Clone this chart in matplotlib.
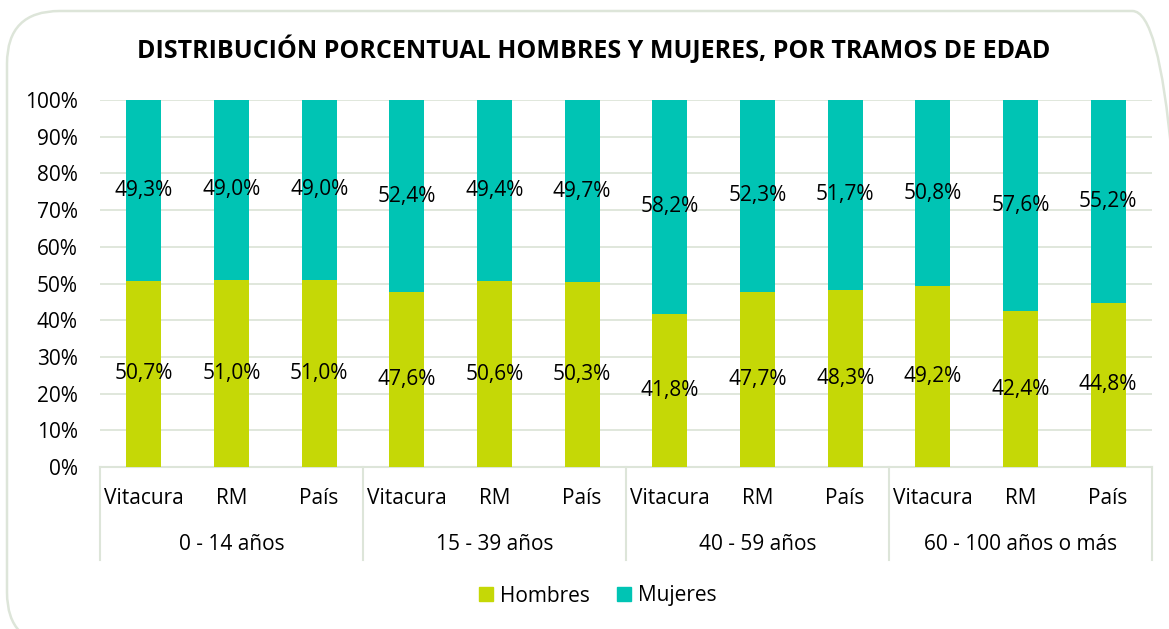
import matplotlib.pyplot as plt
from matplotlib.patches import FancyBboxPatch

groups = ["0 - 14 años", "15 - 39 años", "40 - 59 años", "60 - 100 años o más"]
places = ["Vitacura", "RM", "País"]
hombres = [50.7, 51.0, 51.0, 47.6, 50.6, 50.3, 41.8, 47.7, 48.3, 49.2, 42.4, 44.8]
mujeres = [49.3, 49.0, 49.0, 52.4, 49.4, 49.7, 58.2, 52.3, 51.7, 50.8, 57.6, 55.2]

c_h = "#C5D806"
c_m = "#00C4B4"
grid_c = "#DDE5D9"
font = "Open Sans"
plt.rcParams['font.family'] = [font, 'DejaVu Sans']
fs = 15

W, H = 1169, 629
fig = plt.figure(figsize=(W/100, H/100), dpi=100)
fig.patch.set_facecolor("white")

border = FancyBboxPatch((7/W, -16/H), (1185-7)/W, (H+16-11)/H,
                        boxstyle="round,pad=0,rounding_size=0.045",
                        transform=fig.transFigure, facecolor="none",
                        edgecolor=grid_c, linewidth=1.8, mutation_aspect=W/H)
fig.patches.append(border)

x0, x1 = 100, 1152
y_top, y_bot = 100, 467
ax = fig.add_axes([x0/W, 1 - y_bot/H, (x1-x0)/W, (y_bot-y_top)/H])
n = len(hombres)
xs = list(range(n))
ax.bar(xs, hombres, width=0.4, color=c_h, label="Hombres", zorder=3)
ax.bar(xs, mujeres, width=0.4, bottom=hombres, color=c_m, label="Mujeres", zorder=3)
ax.set_xlim(-0.5, n - 0.5)
ax.set_ylim(0, 100)
ax.set_yticks(range(0, 101, 10))
ax.set_yticklabels([f"{v}%" for v in range(0, 101, 10)], fontsize=fs)
ax.yaxis.grid(True, color=grid_c, linewidth=1.3, zorder=0)
for s in ax.spines.values():
    s.set_visible(False)
ax.tick_params(axis='y', length=0, pad=16)
ax.tick_params(axis='x', length=0)
ax.set_xticks([])

def fmt(v):
    return f"{v:.1f}%".replace(".", ",")

for i in xs:
    ax.text(i, hombres[i] / 2, fmt(hombres[i]), ha="center", va="center", fontsize=fs, zorder=4)
    ax.text(i, hombres[i] + mujeres[i] / 2, fmt(mujeres[i]), ha="center", va="center", fontsize=fs, zorder=4)

# multi-level x axis
trans = ax.get_xaxis_transform()
sep_bottom = -(560 - y_bot) / (y_bot - y_top)
ax.plot([-0.5, n - 0.5], [0, 0], transform=trans, color=grid_c, lw=1.5, clip_on=False, zorder=2)
for k in range(len(groups) + 1):
    xx = -0.5 + 3 * k
    ax.plot([xx, xx], [0, sep_bottom], transform=trans, color=grid_c, lw=1.5, clip_on=False)
lab1_y = -(499 - y_bot) / (y_bot - y_top)
lab2_y = -(545 - y_bot) / (y_bot - y_top)
for i in xs:
    ax.text(i, lab1_y, places[i % 3], transform=trans, ha="center", va="center", fontsize=fs)
for g, name in enumerate(groups):
    ax.text(3 * g + 1, lab2_y, name, transform=trans, ha="center", va="center", fontsize=fs)

fig.text(594/W, 1 - 50/H, "DISTRIBUCIÓN PORCENTUAL HOMBRES Y MUJERES, POR TRAMOS DE EDAD",
         ha="center", va="center", fontsize=18, fontweight="bold")

handles = [plt.Rectangle((0, 0), 1, 1, color=c_h), plt.Rectangle((0, 0), 1, 1, color=c_m)]
fig.legend(handles, ["Hombres", "Mujeres"], loc="center", bbox_to_anchor=(598/W, 1 - 596/H),
           ncol=2, frameon=False, fontsize=fs, handlelength=0.65, handleheight=0.65,
           handletextpad=0.35, columnspacing=1.3)

fig.savefig("out.png", dpi=100)
